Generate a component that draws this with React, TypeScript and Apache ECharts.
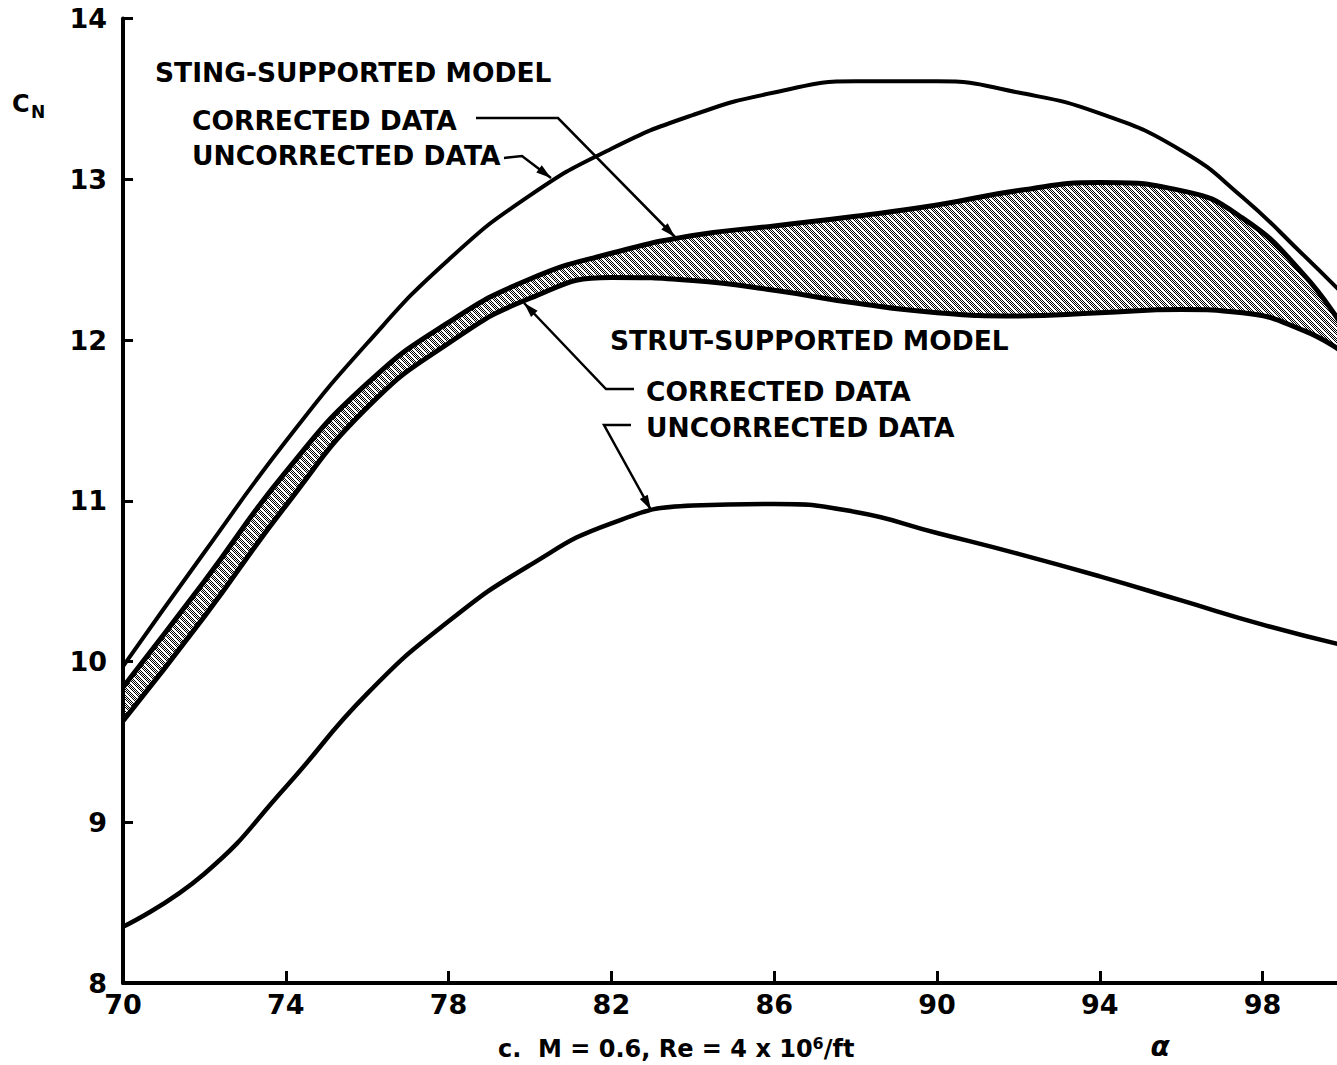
import React, { useEffect, useRef } from 'react';
import * as echarts from 'echarts';

// angle of attack (deg) for the shaded-band curves and the sting uncorrected curve
const alpha = [70, 72, 74, 76, 78, 80, 82, 84, 86, 88, 90, 92, 94, 96, 97.5, 99, 100];
const stingUncorrected = [9.97, 10.68, 11.37, 11.98, 12.5, 12.9, 13.19, 13.4, 13.54, 13.61, 13.61, 13.54, 13.41, 13.18, 12.89, 12.53, 12.28];
const stingCorrected = [9.84, 10.5, 11.18, 11.73, 12.11, 12.38, 12.54, 12.65, 12.71, 12.77, 12.84, 12.93, 12.98, 12.93, 12.76, 12.41, 12.07];
const strutCorrected = [9.63, 10.28, 10.97, 11.58, 11.98, 12.26, 12.39, 12.37, 12.31, 12.23, 12.17, 12.15, 12.17, 12.19, 12.17, 12.06, 11.92];
// strut uncorrected curve
const alphaStrut = [70, 72, 74, 76, 78, 80, 82, 84, 86, 88, 90, 92, 94, 96, 98, 100];
const strutUncorrected = [8.35, 8.68, 9.22, 9.8, 10.25, 10.6, 10.86, 10.97, 10.98, 10.93, 10.8, 10.67, 10.53, 10.38, 10.23, 10.1];
// axis ticks
const xTicks = [70, 74, 78, 82, 86, 90, 94, 98];

const FONT = '"DejaVu Sans", "Liberation Sans", sans-serif';
const SMOOTH = 0.5;

function zip(xs: number[], ys: number[]) {
  return xs.map((x, i) => [x, ys[i]]);
}

function makeStipple() {
  const n = 8;
  const c = document.createElement('canvas');
  c.width = n;
  c.height = n;
  const ctx = c.getContext('2d')!;
  ctx.fillStyle = '#ffffff';
  ctx.fillRect(0, 0, n, n);
  ctx.fillStyle = '#000000';
  for (let y = 0; y < n; y++) {
    for (let x = 0; x < n; x++) {
      if ((x + y) % 2 === 0 && x !== y) ctx.fillRect(x, y, 1, 1);
    }
  }
  return c.toDataURL();
}

function arrowHead(tip: number[], from: number[], len = 15, half = 4.5) {
  const dx = tip[0] - from[0];
  const dy = tip[1] - from[1];
  const d = Math.sqrt(dx * dx + dy * dy);
  const ux = dx / d;
  const uy = dy / d;
  const bx = tip[0] - ux * len;
  const by = tip[1] - uy * len;
  return {
    type: 'polygon',
    shape: { points: [tip, [bx - uy * half, by + ux * half], [bx + uy * half, by - ux * half]] },
    style: { fill: '#000' },
    z: 20,
  };
}

function arrow(points: number[][]) {
  const n = points.length;
  return [
    {
      type: 'polyline',
      shape: { points },
      style: { stroke: '#000', lineWidth: 2.5, fill: null },
      z: 20,
    },
    arrowHead(points[n - 1], points[n - 2]),
  ];
}

function label(text: string, x: number, y: number, size = 26.5) {
  return {
    type: 'text',
    x,
    y,
    z: 20,
    style: {
      text,
      fill: '#000',
      font: `bold ${size}px ${FONT}`,
      align: 'left',
      verticalAlign: 'middle',
      textAlign: 'left',
      textVerticalAlign: 'middle',
    },
  };
}

export default function App() {
  const ref = useRef<HTMLDivElement>(null);

  useEffect(() => {
    if (!ref.current) return;
    const chart = echarts.init(ref.current, undefined, { renderer: 'svg' });
    const axisFont = { fontSize: 27, fontWeight: 'bold', fontFamily: FONT, color: '#000' };
    const hidden = { width: 0, color: 'rgba(0,0,0,0)' };

    const option: any = {
      animation: false,
      backgroundColor: '#ffffff',
      grid: { left: 123, right: -7, top: 18.6, bottom: 82, containLabel: false, outerBoundsMode: 'none' },
      xAxis: {
        type: 'value',
        min: 70,
        max: 100,
        z: 10,
        axisLine: { show: true, lineStyle: { color: '#000', width: 4 } },
        axisTick: { show: true, inside: true, length: 12, lineStyle: { color: '#000', width: 3 }, customValues: xTicks },
        axisLabel: { ...axisFont, margin: 8, customValues: xTicks },
        splitLine: { show: false },
      },
      yAxis: {
        type: 'value',
        min: 8,
        max: 14,
        interval: 1,
        z: 10,
        axisLine: { show: true, lineStyle: { color: '#000', width: 4 } },
        axisTick: { show: true, inside: true, length: 10, lineStyle: { color: '#000', width: 3 } },
        axisLabel: { ...axisFont, margin: 16 },
        splitLine: { show: false },
      },
      series: [
        // shaded band: fill below the sting corrected curve ...
        {
          name: 'bandGrey',
          type: 'line',
          data: zip(alpha, stingCorrected),
          smooth: SMOOTH,
          showSymbol: false,
          lineStyle: hidden,
          areaStyle: { color: '#a4a4a4', opacity: 1, origin: 'start' },
          silent: true,
          z: 1,
        },
        {
          name: 'bandStipple',
          type: 'line',
          data: zip(alpha, stingCorrected),
          smooth: SMOOTH,
          showSymbol: false,
          lineStyle: hidden,
          areaStyle: {
            color: { image: makeStipple(), repeat: 'repeat', imageWidth: 8, imageHeight: 8 },
            opacity: 1,
            origin: 'start',
          },
          silent: true,
          z: 1,
        },
        // ... then blank out everything below the strut corrected curve
        {
          name: 'bandMask',
          type: 'line',
          data: zip(alpha, strutCorrected),
          smooth: SMOOTH,
          showSymbol: false,
          lineStyle: hidden,
          areaStyle: { color: '#ffffff', opacity: 1, origin: 'start' },
          silent: true,
          z: 2,
        },
        {
          name: 'Strut-supported corrected',
          type: 'line',
          data: zip(alpha, strutCorrected),
          smooth: SMOOTH,
          showSymbol: false,
          lineStyle: { color: '#000', width: 5 },
          z: 5,
        },
        {
          name: 'Sting-supported corrected',
          type: 'line',
          data: zip(alpha, stingCorrected),
          smooth: SMOOTH,
          showSymbol: false,
          lineStyle: { color: '#000', width: 5 },
          z: 5,
        },
        {
          name: 'Sting-supported uncorrected',
          type: 'line',
          data: zip(alpha, stingUncorrected),
          smooth: SMOOTH,
          showSymbol: false,
          lineStyle: { color: '#000', width: 4 },
          z: 5,
        },
        {
          name: 'Strut-supported uncorrected',
          type: 'line',
          data: zip(alphaStrut, strutUncorrected),
          smooth: SMOOTH,
          showSymbol: false,
          lineStyle: { color: '#000', width: 4.5 },
          z: 5,
        },
      ],
      graphic: [
        label('STING-SUPPORTED MODEL', 155, 72),
        label('CORRECTED DATA', 192, 120),
        label('UNCORRECTED DATA', 192, 155),
        label('STRUT-SUPPORTED MODEL', 610, 340),
        label('CORRECTED DATA', 646, 391),
        label('UNCORRECTED DATA', 646, 427),
        ...arrow([[476, 118], [558, 118], [675, 237]]),
        ...arrow([[504, 158], [522, 156], [551, 178]]),
        ...arrow([[634, 389], [606, 389], [524, 303]]),
        ...arrow([[631, 425], [604, 425], [651, 510]]),
        label('C', 12, 104, 24),
        label('N', 31, 112, 17),
        {
          type: 'text',
          x: 498,
          y: 1049,
          z: 20,
          style: {
            text: '{a|c.  M = 0.6, Re = 4 x 10}{s|6}{a|/ft}',
            fill: '#000',
            font: `bold 24px ${FONT}`,
            align: 'left',
            verticalAlign: 'middle',
            textAlign: 'left',
            textVerticalAlign: 'middle',
            rich: {
              a: { fontSize: 24, fontWeight: 'bold', fontFamily: FONT, lineHeight: 28, fill: '#000' },
              s: { fontSize: 16, fontWeight: 'bold', fontFamily: FONT, lineHeight: 28, verticalAlign: 'top', fill: '#000' },
            },
          },
        },
        {
          type: 'text',
          x: 1160,
          y: 1046,
          z: 20,
          style: {
            text: 'α',
            fill: '#000',
            font: `italic bold 28px ${FONT}`,
            align: 'center',
            verticalAlign: 'middle',
            textAlign: 'center',
            textVerticalAlign: 'middle',
          },
        },
      ],
    };

    chart.setOption(option);
    return () => chart.dispose();
  }, []);

  return (
    <div
      ref={ref}
      style={{ position: 'fixed', left: 0, top: 0, width: 1337, height: 1065, background: '#fff' }}
    />
  );
}
